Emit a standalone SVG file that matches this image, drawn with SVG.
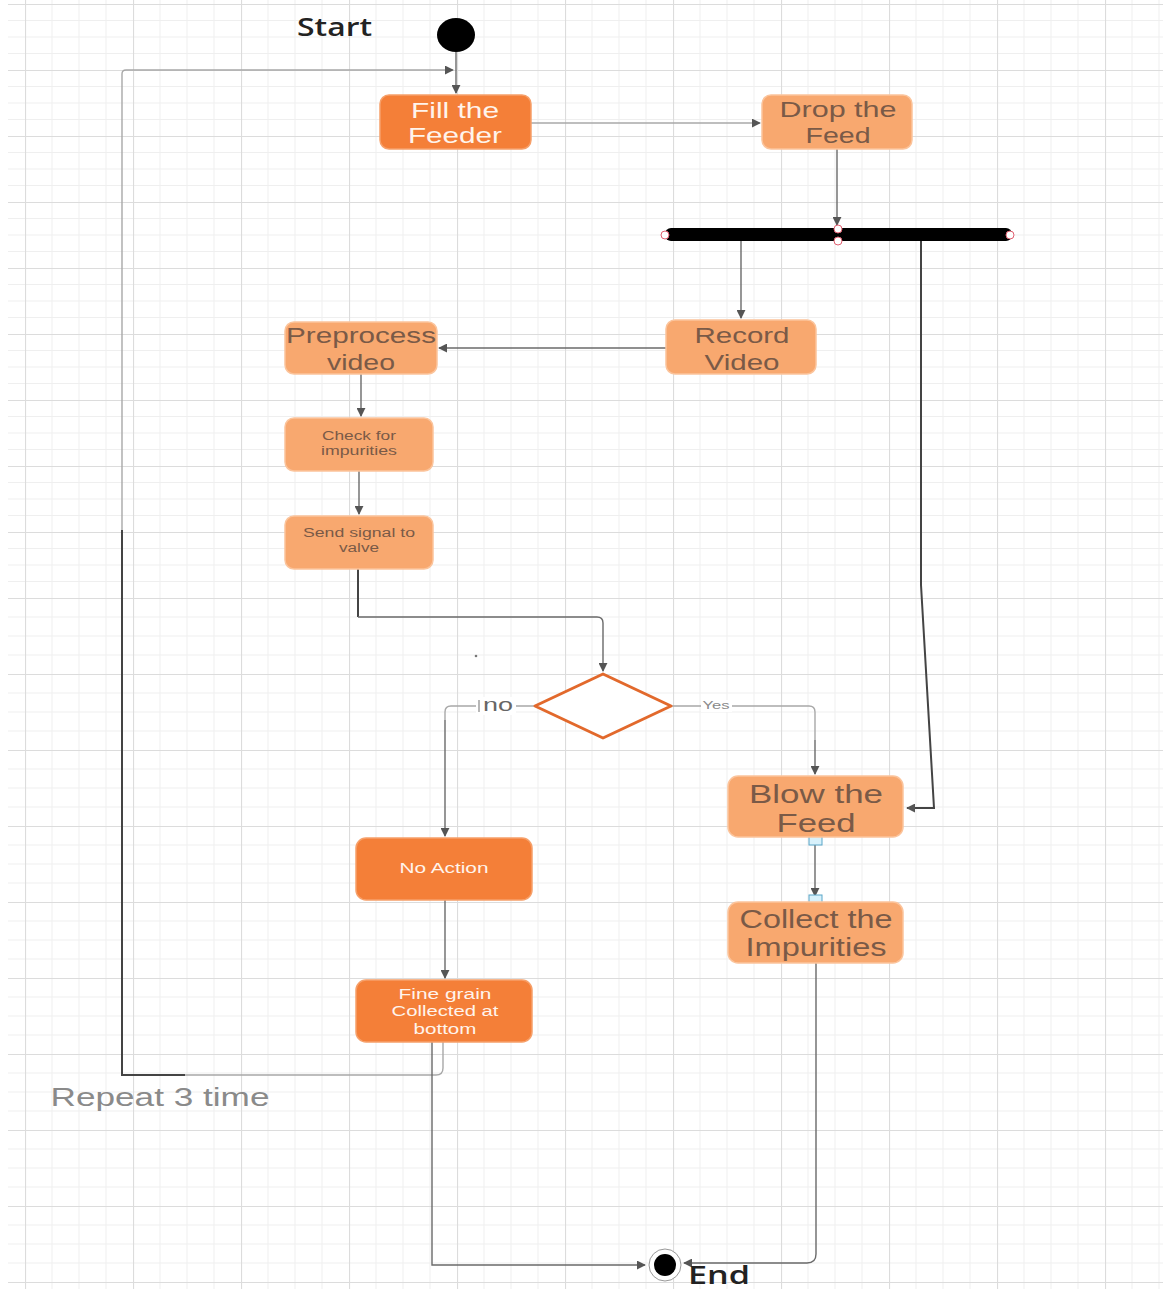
<svg xmlns="http://www.w3.org/2000/svg" width="1163" height="1289" viewBox="0 0 1163 1289">
  <defs>
    <pattern id="gridTop" x="25" y="4" width="108" height="66" patternUnits="userSpaceOnUse">
      <path d="M27 0V66M54 0V66M81 0V66M0 16.5H108M0 33H108M0 49.5H108" stroke="#efefef" stroke-width="1" fill="none"/>
      <path d="M0.5 0V66M0 0.5H108" stroke="#dcdcdc" stroke-width="1.2" fill="none"/>
    </pattern>
    <pattern id="gridBottom" x="25" y="66" width="108" height="76" patternUnits="userSpaceOnUse">
      <path d="M27 0V76M54 0V76M81 0V76M0 19H108M0 38H108M0 57H108" stroke="#efefef" stroke-width="1" fill="none"/>
      <path d="M0.5 0V76M0 0.5H108" stroke="#dcdcdc" stroke-width="1.2" fill="none"/>
    </pattern>
    <marker id="arrow" viewBox="0 0 10 10" refX="9" refY="5" markerWidth="9" markerHeight="9" markerUnits="userSpaceOnUse" orient="auto">
      <path d="M0 0L10 5L0 10Z" fill="#555"/>
    </marker>
  </defs>
  <style>
    .box-dark { fill: #f47f38; stroke: #f6a06a; stroke-width: 1.5; }
    .box-light { fill: #f8a86f; stroke: #fbc49c; stroke-width: 1.5; }
    .t { font-family: "Liberation Sans", Arial, sans-serif; text-anchor: middle; }
    .t-white { fill: #fff4ec; }
    .t-dark { fill: #7a5a47; }
    .line { fill: none; stroke: #6a6a6a; stroke-width: 1.4; }
    .line-light { fill: none; stroke: #a8a8a8; stroke-width: 1.4; }
    .line-dark { fill: none; stroke: #444; stroke-width: 2; }
    .label { font-family: "Open Sans", "Liberation Sans", sans-serif; }
    .port { fill: #d8f1fb; stroke: #5aa6c8; stroke-width: 1; }
  </style>

  <!-- background grid -->
  <rect x="0" y="0" width="1163" height="1289" fill="#ffffff"/>
  <rect x="8" y="0" width="1155" height="585" fill="url(#gridTop)"/>
  <rect x="8" y="585" width="1155" height="704" fill="url(#gridBottom)"/>

  <!-- connectors -->
  <g id="connectors">
    <!-- start -> fill -->
    <path class="line" d="M456 52V93" marker-end="url(#arrow)"/>
    <!-- repeat loop -->
    <path class="line-light" d="M122 530V74Q122 70 126 70H453" marker-end="url(#arrow)"/>
    <path class="line-dark" d="M122 530V1075H185"/>
    <path class="line-light" d="M185 1075H436Q443 1075 443 1068V1042"/>
    <!-- fill -> drop -->
    <path class="line-light" d="M531 123H760" marker-end="url(#arrow)"/>
    <!-- drop -> fork -->
    <path class="line" d="M837 149V225" marker-end="url(#arrow)"/>
    <!-- fork -> record -->
    <path class="line" d="M741 241V318" marker-end="url(#arrow)"/>
    <!-- fork -> blow -->
    <path class="line-dark" d="M921 241V585L934 808H907" stroke-width="1.6" marker-end="url(#arrow)"/>
    <!-- record -> preprocess -->
    <path class="line" d="M666 348H439" marker-end="url(#arrow)"/>
    <!-- preprocess -> check -->
    <path class="line" d="M361 374V416" marker-end="url(#arrow)"/>
    <!-- check -> send -->
    <path class="line" d="M359 471V514" marker-end="url(#arrow)"/>
    <!-- send -> decision -->
    <path class="line-dark" d="M358 569V617" stroke-width="1.8"/>
    <path class="line" d="M358 617H597Q603 617 603 623V671" marker-end="url(#arrow)"/>
    <!-- decision no -->
    <path class="line-light" d="M535 706H451Q445 706 445 712V720"/>
    <path class="line" d="M445 720V836" marker-end="url(#arrow)"/>
    <!-- decision yes -->
    <path class="line-light" d="M671 706H809Q815 706 815 712V740"/>
    <path class="line" d="M815 740V774" marker-end="url(#arrow)"/>
    <!-- blow -> collect -->
    <path class="line" d="M815 845V896" marker-end="url(#arrow)"/>
    <!-- no action -> fine grain -->
    <path class="line" d="M445 900V978" marker-end="url(#arrow)"/>
    <!-- fine grain -> end -->
    <path class="line" d="M432 1042V1265H645" marker-end="url(#arrow)"/>
    <!-- collect -> end -->
    <path class="line" d="M816 963V1254Q816 1263 807 1263H684" marker-end="url(#arrow)"/>
    <!-- connection ports -->
    <rect class="port" x="809" y="832" width="13" height="13"/>
    <rect class="port" x="809" y="895" width="13" height="13"/>
  </g>

  <!-- start -->
  <g id="start">
    <ellipse cx="456" cy="35" rx="19" ry="17" fill="#000"/>
    <text class="label" x="297" y="36" font-size="26" font-weight="600" fill="#222" textLength="75" lengthAdjust="spacingAndGlyphs">Start</text>
  </g>

  <g id="fill-feeder">
    <rect class="box-dark" x="380" y="95" width="151" height="54" rx="9"/>
    <text class="t t-white" x="455" y="118" font-size="22" textLength="88" lengthAdjust="spacingAndGlyphs">Fill the</text>
    <text class="t t-white" x="455" y="143" font-size="22" textLength="94" lengthAdjust="spacingAndGlyphs">Feeder</text>
  </g>

  <g id="drop-feed">
    <rect class="box-light" x="762" y="95" width="150" height="54" rx="9"/>
    <text class="t t-dark" x="838" y="117" font-size="22" textLength="117" lengthAdjust="spacingAndGlyphs">Drop the</text>
    <text class="t t-dark" x="838" y="143" font-size="22" textLength="65" lengthAdjust="spacingAndGlyphs">Feed</text>
  </g>

  <g id="fork">
    <rect x="665" y="228" width="347" height="13" rx="6" fill="#000"/>
    <circle cx="665" cy="235" r="4" fill="#fff" stroke="#e06070" stroke-width="1"/>
    <circle cx="1010" cy="235" r="4" fill="#fff" stroke="#e06070" stroke-width="1"/>
    <circle cx="838" cy="229" r="4" fill="#fff" stroke="#e06070" stroke-width="1"/>
    <circle cx="838" cy="241" r="4" fill="#fff" stroke="#e06070" stroke-width="1"/>
  </g>

  <g id="record-video">
    <rect class="box-light" x="666" y="320" width="150" height="54" rx="9"/>
    <text class="t t-dark" x="742" y="343" font-size="22" textLength="95" lengthAdjust="spacingAndGlyphs">Record</text>
    <text class="t t-dark" x="742" y="370" font-size="22" textLength="75" lengthAdjust="spacingAndGlyphs">Video</text>
  </g>

  <g id="preprocess-video">
    <rect class="box-light" x="285" y="322" width="152" height="52" rx="9"/>
    <text class="t t-dark" x="361" y="343" font-size="22" textLength="150" lengthAdjust="spacingAndGlyphs">Preprocess</text>
    <text class="t t-dark" x="361" y="370" font-size="22" textLength="68" lengthAdjust="spacingAndGlyphs">video</text>
  </g>

  <g id="check-impurities">
    <rect class="box-light" x="285" y="418" width="148" height="53" rx="9"/>
    <text class="t t-dark" x="359" y="440" font-size="12" textLength="74" lengthAdjust="spacingAndGlyphs">Check for</text>
    <text class="t t-dark" x="359" y="455" font-size="12" textLength="76" lengthAdjust="spacingAndGlyphs">impurities</text>
  </g>

  <g id="send-signal">
    <rect class="box-light" x="285" y="516" width="148" height="53" rx="9"/>
    <text class="t t-dark" x="359" y="537" font-size="12" textLength="112" lengthAdjust="spacingAndGlyphs">Send signal to</text>
    <text class="t t-dark" x="359" y="552" font-size="12" textLength="40" lengthAdjust="spacingAndGlyphs">valve</text>
  </g>

  <g id="decision">
    <path d="M603 674L671 706L603 738L535 706Z" fill="#fff" stroke="#e2692c" stroke-width="3" stroke-linejoin="round"/>
    <circle cx="476" cy="656" r="1.3" fill="#777"/>
    <rect x="476" y="697" width="40" height="18" fill="#fff"/>
    <path d="M479 700V712" stroke="#888" stroke-width="1.2"/>
    <text class="t" x="498" y="711" font-size="18" fill="#666" textLength="30" lengthAdjust="spacingAndGlyphs">no</text>
    <rect x="701" y="700" width="31" height="12" fill="#fff"/>
    <text class="t" x="716" y="709" font-size="11" fill="#8a8a8a" textLength="27" lengthAdjust="spacingAndGlyphs">Yes</text>
  </g>

  <g id="blow-feed">
    <rect class="box-light" x="728" y="776" width="175" height="61" rx="10"/>
    <text class="t t-dark" x="816" y="803" font-size="26" textLength="134" lengthAdjust="spacingAndGlyphs">Blow the</text>
    <text class="t t-dark" x="816" y="832" font-size="26" textLength="79" lengthAdjust="spacingAndGlyphs">Feed</text>
  </g>

  <g id="collect-impurities">
    <rect class="box-light" x="728" y="902" width="175" height="61" rx="10"/>
    <text class="t t-dark" x="816" y="928" font-size="25" textLength="153" lengthAdjust="spacingAndGlyphs">Collect the</text>
    <text class="t t-dark" x="816" y="956" font-size="25" textLength="141" lengthAdjust="spacingAndGlyphs">Impurities</text>
  </g>

  <g id="no-action">
    <rect class="box-dark" x="356" y="838" width="176" height="62" rx="10"/>
    <text class="t t-white" x="444" y="873" font-size="15" textLength="89" lengthAdjust="spacingAndGlyphs">No Action</text>
  </g>

  <g id="fine-grain">
    <rect class="box-dark" x="356" y="980" width="176" height="62" rx="10"/>
    <text class="t t-white" x="445" y="999" font-size="14" textLength="93" lengthAdjust="spacingAndGlyphs">Fine grain</text>
    <text class="t t-white" x="445" y="1016" font-size="14" textLength="107" lengthAdjust="spacingAndGlyphs">Collected at</text>
    <text class="t t-white" x="445" y="1034" font-size="14" textLength="63" lengthAdjust="spacingAndGlyphs">bottom</text>
  </g>

  <g id="repeat-label">
    <text class="t" x="160" y="1106" font-size="26" fill="#8a8a8a" textLength="219" lengthAdjust="spacingAndGlyphs">Repeat 3 time</text>
  </g>

  <g id="end">
    <circle cx="665" cy="1265" r="16" fill="#fff" stroke="#999" stroke-width="1"/>
    <circle cx="665" cy="1265" r="11" fill="#000"/>
    <text class="label" x="688" y="1284" font-size="25" font-weight="600" fill="#222" textLength="62" lengthAdjust="spacingAndGlyphs">End</text>
  </g>
</svg>
